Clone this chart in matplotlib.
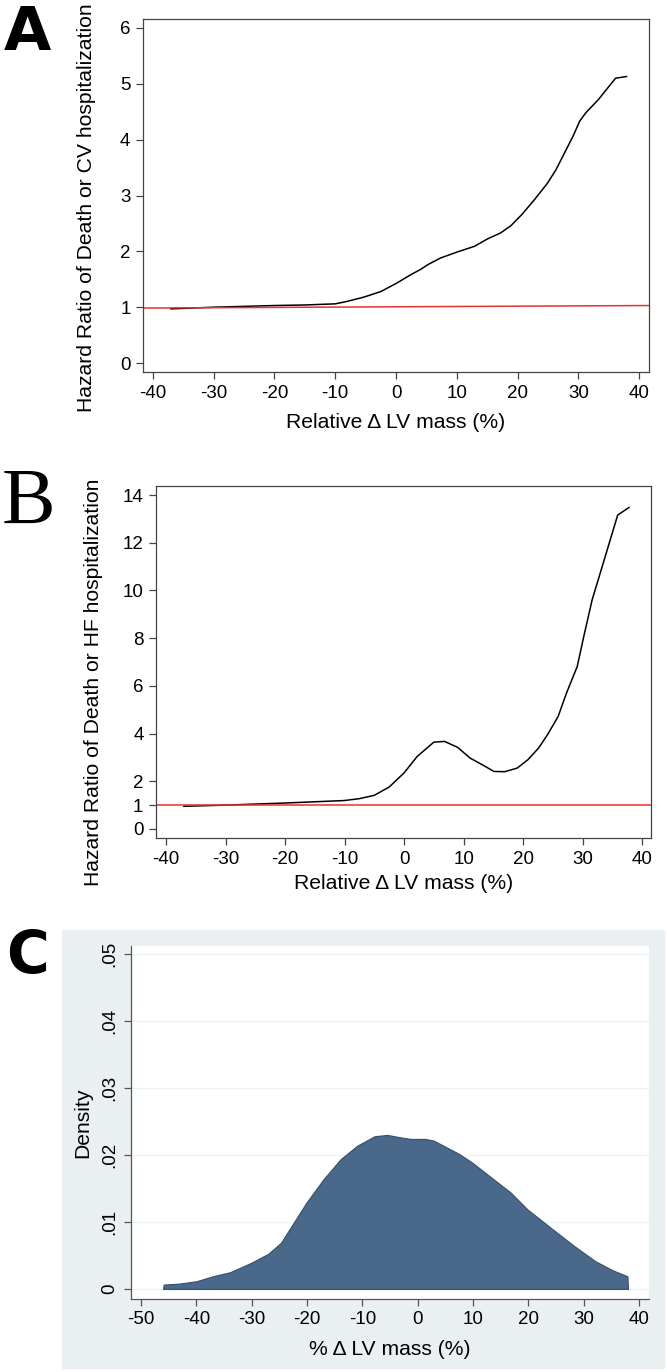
import matplotlib
matplotlib.use("Agg")
import matplotlib.pyplot as plt
from matplotlib.patches import Rectangle

plt.rcParams['font.family'] = ['Liberation Sans', 'DejaVu Sans']
plt.rcParams['axes.unicode_minus'] = False

# panel A: death or CV hospitalization
a_x = [-37.0, -30.0, -20.0, -15.0, -10.0, -8.2, -5.3, -2.5, 0.1, 2.4, 4.1, 5.2, 7.3,
       10.1, 12.9, 15.0, 17.2, 18.9, 20.7, 22.8, 24.9, 26.3, 27.7, 29.1, 30.2, 31.2,
       33.3, 36.1, 37.9]
a_hr = [0.97, 1.00, 1.03, 1.04, 1.06, 1.10, 1.18, 1.28, 1.43, 1.58, 1.68, 1.76, 1.88,
        1.99, 2.09, 2.22, 2.33, 2.46, 2.66, 2.93, 3.22, 3.46, 3.76, 4.06, 4.33, 4.48,
        4.72, 5.10, 5.13]
a_ref_x = [-41.6, 41.6]
a_ref_y = [0.985, 1.03]

# panel B: death or HF hospitalization
b_x = [-37.0, -29.8, -19.7, -10.1, -7.5, -5.0, -2.5, 0.0, 2.2, 5.0, 6.8, 9.0, 11.1,
       13.3, 15.1, 16.9, 19.0, 20.8, 22.6, 24.1, 25.9, 27.3, 29.1, 30.2, 31.6, 33.8,
       35.9, 37.8]
b_hr = [0.95, 1.00, 1.09, 1.19, 1.27, 1.41, 1.76, 2.35, 3.04, 3.64, 3.67, 3.42, 2.97,
        2.67, 2.41, 2.40, 2.55, 2.90, 3.39, 3.95, 4.72, 5.70, 6.81, 8.07, 9.60, 11.42,
        13.16, 13.48]

# panel C: density of relative change
c_x = [-46.0, -45.9, -43.1, -40.0, -37.0, -33.9, -30.1, -27.0, -24.7, -22.4, -20.1,
       -17.0, -13.9, -10.9, -7.8, -5.5, -3.2, -1.3, 1.4, 2.9, 5.2, 7.5, 9.8, 12.9,
       16.8, 19.8, 24.4, 28.3, 32.1, 35.2, 37.9, 38.0]
c_dens = [0.0, 0.00065, 0.0008, 0.00115, 0.0019, 0.0025, 0.0039, 0.00525, 0.0069,
          0.0099, 0.0129, 0.0164, 0.0194, 0.0214, 0.0228, 0.0230, 0.02265, 0.0224,
          0.0224, 0.02215, 0.02115, 0.02015, 0.0189, 0.0169, 0.0144, 0.0119, 0.0089,
          0.0064, 0.00415, 0.0028, 0.0019, 0.0]

x_ticks = [-40, -30, -20, -10, 0, 10, 20, 30, 40]
a_yticks = [0, 1, 2, 3, 4, 5, 6]
b_yticks = [0, 1, 2, 4, 6, 8, 10, 12, 14]
c_xticks = [-50, -40, -30, -20, -10, 0, 10, 20, 30, 40]
c_yticks = [0, 0.01, 0.02, 0.03, 0.04, 0.05]
c_ylabels = ['0', '.01', '.02', '.03', '.04', '.05']

W, H = 667, 1372
fig = plt.figure(figsize=(W / 100, H / 100), dpi=100)

def px_axes(left, top, right, bottom):
    return fig.add_axes([left / W, 1 - bottom / H, (right - left) / W, (bottom - top) / H])

axis_col = '#444444'
red = '#e8312f'
lab_fs = 15.2
tick_fs = 13.5

# ---- A ----
ax = px_axes(143, 19, 649, 372)
ax.plot(a_x, a_hr, color='black', lw=1.1)
ax.plot(a_ref_x, a_ref_y, color=red, lw=1.1)
ax.set_xlim(-41.6, 41.6)
ax.set_ylim(-0.16, 6.16)
ax.set_xticks(x_ticks)
ax.set_yticks(a_yticks)
ax.set_xlabel('Relative Δ LV mass (%)', fontsize=lab_fs, labelpad=8)
ax.set_ylabel('Hazard Ratio of Death or CV hospitalization', fontsize=lab_fs)
ax.yaxis.set_label_coords(-0.093, 0.465)
ax.tick_params(labelsize=tick_fs, color=axis_col, length=5, width=0.9, pad=4)
for s in ax.spines.values():
    s.set_color(axis_col)
    s.set_linewidth(0.9)
fig.text(4 / W, 1 - 50 / H, 'A', fontsize=44, fontweight='bold', family='DejaVu Sans')

# ---- B ----
ax = px_axes(156, 486, 651, 838)
ax.plot(b_x, b_hr, color='black', lw=1.1)
ax.axhline(1.0, color=red, lw=1.1)
ax.set_xlim(-41.7, 41.5)
ax.set_ylim(-0.38, 14.38)
ax.set_xticks(x_ticks)
ax.set_yticks(b_yticks)
ax.set_xlabel('Relative Δ LV mass (%)', fontsize=lab_fs, labelpad=5)
ax.set_ylabel('Hazard Ratio of Death or HF hospitalization', fontsize=lab_fs)
ax.yaxis.set_label_coords(-0.107, 0.443)
ax.tick_params(labelsize=tick_fs, color=axis_col, length=5, width=0.9, pad=4)
for s in ax.spines.values():
    s.set_color(axis_col)
    s.set_linewidth(0.9)
fig.text(2 / W, 1 - 524 / H, 'B', fontsize=58, family='Liberation Serif')

# ---- C ----
fig.patches.append(Rectangle((62 / W, 1 - 1368 / H), (664 - 62) / W, (1368 - 930) / H,
                             transform=fig.transFigure, color='#eaf0f2', zorder=-5))
ax = px_axes(131, 946, 649, 1299)
ax.set_zorder(2)
ax.set_facecolor('white')
ax.fill_between(c_x, c_dens, 0, color='#4a6889', edgecolor='#34506e', lw=0.8)
ax.set_xlim(-51.8, 41.8)
ax.set_ylim(-0.0015, 0.0512)
ax.set_xticks(c_xticks)
ax.set_yticks(c_yticks)
ax.set_yticklabels(c_ylabels, rotation=90, va='center')
ax.grid(axis='y', color='#eaf2f3', lw=0.9)
ax.set_axisbelow(True)
ax.set_xlabel('% Δ LV mass (%)', fontsize=lab_fs, labelpad=8)
ax.set_ylabel('Density', fontsize=lab_fs)
ax.yaxis.set_label_coords(-0.075, 0.5)
ax.tick_params(labelsize=tick_fs, color='#555555', length=5, width=0.9, pad=4)
for s in ['top', 'right']:
    ax.spines[s].set_visible(False)
for s in ['left', 'bottom']:
    ax.spines[s].set_color('#555555')
    ax.spines[s].set_linewidth(0.9)
fig.text(6 / W, 1 - 973 / H, 'C', fontsize=42, fontweight='bold', family='DejaVu Sans')

fig.savefig('out.png', dpi=100)
